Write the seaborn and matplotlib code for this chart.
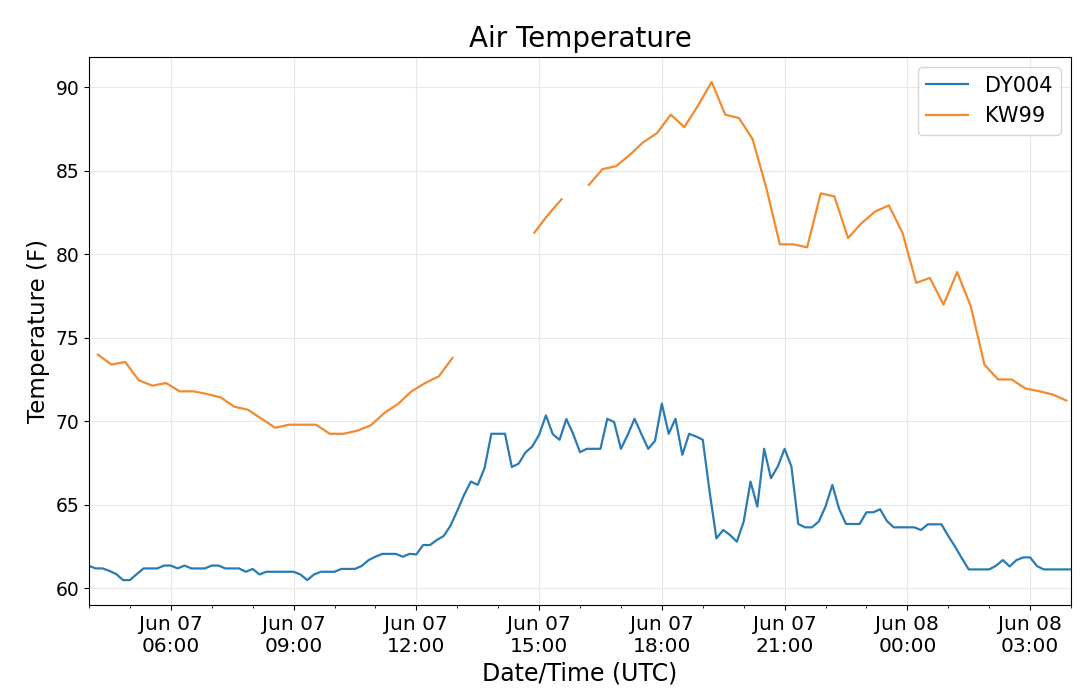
import pandas as pd
import numpy as np
import seaborn as sns
import matplotlib
matplotlib.use("Agg")
import matplotlib.pyplot as plt
import matplotlib.dates as mdates

# =========================
# DATA
# =========================

# DY004: every 10 min from Jun 07 04:00 to Jun 08 04:00
dy004_start = "2019-06-07 04:00"
dy004_temp = [
    61.35, 61.2, 61.2, 61.05, 60.86, 60.5, 60.5, 60.86, 61.2, 61.2,
    61.2, 61.37, 61.37, 61.2, 61.37, 61.2, 61.2, 61.2, 61.37, 61.37,
    61.2, 61.2, 61.2, 61.0, 61.17, 60.84, 61.0, 61.0, 61.0, 61.0,
    61.0, 60.84, 60.5, 60.84, 61.0, 61.0, 61.0, 61.17, 61.17, 61.17,
    61.35, 61.7, 61.9, 62.07, 62.07, 62.07, 61.9, 62.07, 62.04, 62.6,
    62.6, 62.9, 63.14, 63.75, 64.65, 65.6, 66.4, 66.2, 67.2, 69.26,
    69.26, 69.26, 67.27, 67.47, 68.14, 68.5, 69.2, 70.36, 69.24, 68.9,
    70.14, 69.24, 68.16, 68.36, 68.36, 68.36, 70.16, 69.96, 68.36, 69.2,
    70.16, 69.24, 68.36, 68.84, 71.06, 69.26, 70.16, 68.0, 69.26, 69.1,
    68.9, 65.8, 63.0, 63.5, 63.2, 62.8, 64.0, 66.4, 64.9, 68.36,
    66.6, 67.3, 68.36, 67.3, 63.86, 63.66, 63.66, 64.0, 64.9, 66.2,
    64.76, 63.86, 63.86, 63.86, 64.56, 64.56, 64.74, 64.04, 63.66, 63.66,
    63.66, 63.66, 63.5, 63.84, 63.84, 63.84, 63.14, 62.5, 61.8, 61.14,
    61.14, 61.14, 61.14, 61.36, 61.7, 61.32, 61.7, 61.86, 61.86, 61.34,
    61.14, 61.14, 61.14, 61.14, 61.14,
]

# KW99: every 20 min from Jun 07 04:13, NaN = missing report
kw99_start = "2019-06-07 04:13"
kw99_temp = [
    74.0, 73.4, 73.56, 72.46, 72.14, 72.3, 71.8, 71.8, 71.64, 71.44,
    70.88, 70.7, 70.16, 69.62, 69.8, 69.8, 69.8, 69.26, 69.26, 69.44,
    69.76, 70.5, 71.04, 71.8, 72.3, 72.7, 73.8, np.nan, np.nan, np.nan,
    np.nan, np.nan, 81.3, 82.36, 83.3, np.nan, 84.16, 85.1, 85.28, 85.96,
    86.72, 87.26, 88.36, 87.62, 88.9, 90.32, 88.36, 88.16, 86.9, 84.0,
    80.6, 80.6, 80.42, 83.65, 83.47, 80.98, 81.87, 82.57, 82.93, 81.27,
    78.29, 78.59, 76.99, 78.94, 76.89, 73.4, 72.51, 72.51, 71.97, 71.81,
    71.61, 71.25,
]

stations = ["DY004", "KW99"]
cores = ["#2a7ab4", "#f28a2e"]

# =========================
# MONTAR TABELA
# =========================

def montar(nome, inicio, passo, valores):
    d = pd.DataFrame({
        "tempo": pd.date_range(inicio, periods=len(valores), freq=passo),
        "temp": valores,
    })
    d["estacao"] = nome
    # cada trecho sem falha vira uma "unit" para o seaborn quebrar a linha
    d["trecho"] = d["temp"].isna().cumsum()
    return d.dropna()

dados = pd.concat([
    montar("DY004", dy004_start, "10min", dy004_temp),
    montar("KW99", kw99_start, "20min", kw99_temp),
])
dados["unidade"] = dados["estacao"] + "_" + dados["trecho"].astype(str)

# =========================
# GRÁFICO
# =========================

fig, ax = plt.subplots(figsize=(10.8, 6.98), dpi=100)
fig.subplots_adjust(left=0.0824, right=0.9917, top=0.9183, bottom=0.1332)

sns.lineplot(
    data=dados,
    x="tempo",
    y="temp",
    hue="estacao",
    hue_order=stations,
    palette=cores,
    units="unidade",
    estimator=None,
    linewidth=1.6,
    ax=ax,
)

ax.set_xlim(pd.Timestamp("2019-06-07 04:00"), pd.Timestamp("2019-06-08 04:00"))
ax.xaxis.set_major_locator(mdates.HourLocator(byhour=range(0, 24, 3)))
ax.xaxis.set_minor_locator(mdates.HourLocator())
ax.xaxis.set_major_formatter(mdates.DateFormatter("%b %d\n%H:%M"))

ax.grid(True, which="major", color="#e8e8e8", linewidth=0.8)
ax.set_axisbelow(True)

ax.tick_params(axis="x", which="major", labelsize=14.5)
ax.tick_params(axis="y", which="major", labelsize=13.5)

ax.set_title("Air Temperature", fontsize=20, pad=7)
ax.set_xlabel("Date/Time (UTC)", fontsize=17)
ax.set_ylabel("Temperature (F)", fontsize=16.5)

ax.legend(loc="upper right", fontsize=15)

plt.savefig("out.png", dpi=100)
